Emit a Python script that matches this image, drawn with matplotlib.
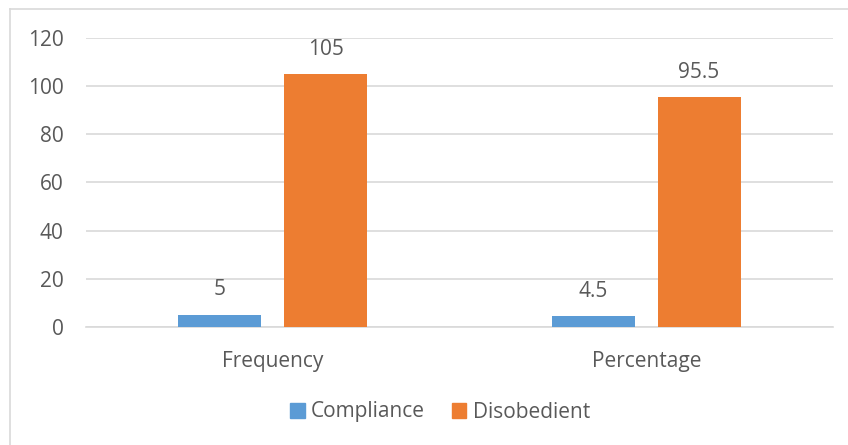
import matplotlib
matplotlib.use("Agg")
import matplotlib.pyplot as plt
import numpy as np
from matplotlib.lines import Line2D
from matplotlib.patches import Patch

categories = ["Frequency", "Percentage"]
series_names = ["Compliance", "Disobedient"]
compliance = [5, 4.5]
disobedient = [105, 95.5]
value_labels = [["5", "4.5"], ["105", "95.5"]]
yticks = [0, 20, 40, 60, 80, 100, 120]

colors = ["#5B9BD5", "#ED7D31"]
text_color = "#595959"
grid_color = "#D9D9D9"

plt.rcParams["font.family"] = ["Open Sans", "DejaVu Sans"]

W, H = 848, 445
fig = plt.figure(figsize=(W / 100, H / 100), dpi=100)
ax = fig.add_axes([86 / W, (H - 327) / H, (833 - 86) / W, (327 - 38) / H])

x = np.arange(len(categories))
width = 0.222
offset = 0.1415
for i, (vals, name) in enumerate(zip([compliance, disobedient], series_names)):
    pos = x + (i * 2 - 1) * offset
    ax.bar(pos, vals, width=width, color=colors[i], label=name, zorder=3)
    for p, v, lab in zip(pos, vals, value_labels[i]):
        ax.annotate(lab, (p, v), xytext=(0, 18), textcoords="offset points",
                    ha="center", va="center", fontsize=15, color=text_color)

ax.set_xlim(-0.5, 1.5)
ax.set_ylim(0, 120)
ax.set_yticks(yticks)
ax.set_xticks(x)
ax.set_xticklabels(categories)
ax.yaxis.grid(True, color=grid_color, linewidth=1.2, zorder=0)
ax.tick_params(axis="both", length=0, labelsize=15, labelcolor=text_color)
ax.tick_params(axis="y", pad=16)
ax.tick_params(axis="x", pad=17)
for s in ["top", "right", "left"]:
    ax.spines[s].set_visible(False)
ax.spines["bottom"].set_color(grid_color)
ax.spines["bottom"].set_linewidth(1.2)

handles = [Patch(color=c) for c in colors]
leg = fig.legend(handles, series_names, loc="center", bbox_to_anchor=(440 / W, (H - 412) / H),
                 ncol=2, frameon=False, fontsize=15, handlelength=0.7, handleheight=0.7,
                 handletextpad=0.3, columnspacing=1.3, labelcolor=text_color)

# chart-area border
fig.add_artist(Line2D([10 / W, 10 / W], [0, (H - 9) / H], color=grid_color, linewidth=1.2))
fig.add_artist(Line2D([10 / W, 1], [(H - 9) / H, (H - 9) / H], color=grid_color, linewidth=1.2))

fig.savefig("out.png", dpi=100)
